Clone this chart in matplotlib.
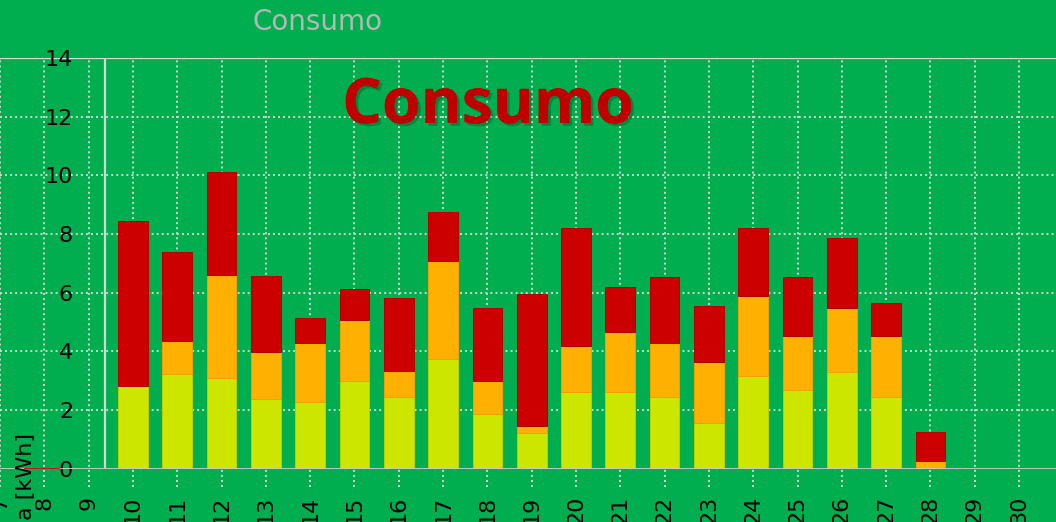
import matplotlib
matplotlib.use('Agg')
import matplotlib.pyplot as plt
import matplotlib.patheffects as pe
import numpy as np

# ---- data ----
days = list(range(7, 31))
tick_labels = [str(d) for d in days]
bar_days = list(range(10, 31))
yellow = [2.83, 3.24, 3.08, 2.36, 2.28, 3.00, 2.43, 3.72, 1.87, 1.23, 2.60,
          2.60, 2.44, 1.56, 3.16, 2.67, 3.31, 2.44, 0.0, 0.0, 0.0]
orange = [0.0, 1.12, 3.52, 1.60, 2.00, 2.07, 0.89, 3.37, 1.12, 0.23, 1.59,
          2.07, 1.84, 2.08, 2.71, 1.85, 2.16, 2.08, 0.27, 0.0, 0.0]
red = [5.60, 3.03, 3.52, 2.62, 0.87, 1.05, 2.48, 1.67, 2.48, 4.49, 4.00,
       1.52, 2.24, 1.91, 2.32, 2.00, 2.40, 1.11, 0.97, 0.0, 0.0]
y_ticks = [0, 2, 4, 6, 8, 10, 12, 14]

GREEN = '#00AE4F'
GRID = '#cfd8cf'
W, H = 1056, 522

fig = plt.figure(figsize=(W / 100, H / 100), dpi=100, facecolor=GREEN)
ax = fig.add_axes([0, (H - 468.6) / H, 1, (468.6 - 58) / H])
ax.set_facecolor(GREEN)
for s in ax.spines.values():
    s.set_visible(False)

ax.set_xlim(7.119, 30.833)
ax.set_ylim(0, 14)

# grid
for yv in y_ticks[1:-1]:
    ax.axhline(yv, color=GRID, lw=1.4, ls=(0, (1, 1.6)), zorder=1)
ax.axhline(14, color='#d8dcd8', lw=1.6, zorder=1)
for d in days:
    ax.plot([d, d], [-0.63, 14], color=GRID, lw=1.4, ls=(0, (1, 1.6)),
            zorder=1, clip_on=False)
ax.plot([9.38, 9.38], [0, 14], color='#d0d6d0', lw=1.6, zorder=1)
ax.axhline(0, color='#c8ccc8', lw=2, zorder=3)
ax.plot([7.57, 8.31], [0, 0], color='#cc0000', lw=2, zorder=4)

# bars
bw = 0.67
x = np.array(bar_days, dtype=float)
y = np.array(yellow)
o = np.array(orange)
r = np.array(red)
lw = lambda h: [0.7 if v > 0 else 0 for v in h]
ax.bar(x, y, width=bw, color='#CCE600', edgecolor='#b8d000', linewidth=lw(y), zorder=2)
ax.bar(x, o, bottom=y, width=bw, color='#FFB000', edgecolor='#f0a000', linewidth=lw(o), zorder=2)
ax.bar(x, r, bottom=y + o, width=bw, color='#CC0000', edgecolor='#b80000', linewidth=lw(r), zorder=2)

# ticks
tick_font = ['Liberation Sans Narrow', 'DejaVu Sans']
ax.set_xticks(days)
ax.set_xticklabels(tick_labels, rotation=90, fontsize=16, family=tick_font)
ax.tick_params(axis='x', length=0, pad=19.7, colors='black')
ax.set_yticks(y_ticks)
ax.set_yticklabels([str(v) for v in y_ticks], fontsize=16, family=tick_font)
ax.tick_params(axis='y', length=0, pad=-52.6, colors='black')

# y label
fig.text(26 / W, 1 - 433 / H, 'Energia [kWh]', rotation=90, ha='center', va='top',
         fontsize=16, family=tick_font, color='black')

# titles
fig.text(317 / W, 1 - 22 / H, 'Consumo', ha='center', va='center',
         fontsize=20, color='#b4b8b4', family='DejaVu Sans')
t = fig.text(488 / W, 1 - 123 / H, 'Consumo', ha='center', va='baseline',
             fontsize=45, fontweight='bold', color='#C00000', family='Open Sans')
t.set_path_effects([pe.withSimplePatchShadow(offset=(2, -2), shadow_rgbFace='black', alpha=0.22),
                    pe.Normal()])

fig.savefig('out.png', dpi=100, facecolor=GREEN)
